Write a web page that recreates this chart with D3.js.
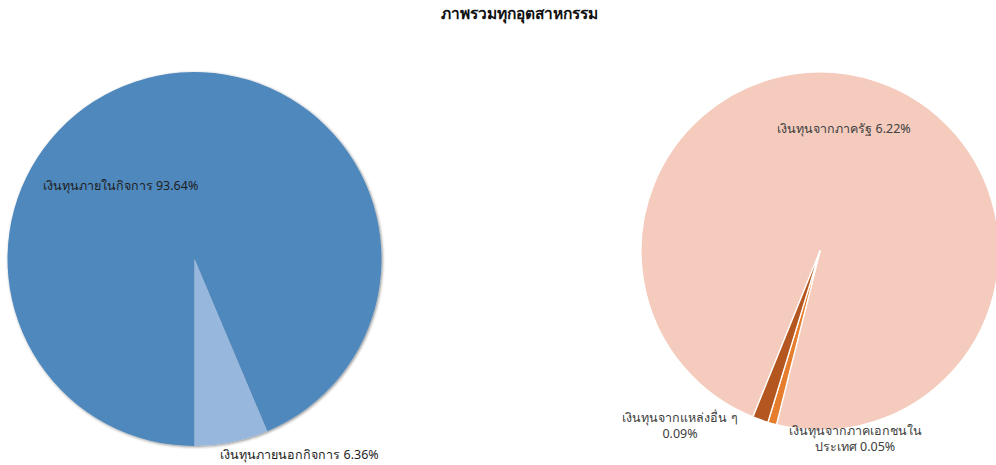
<!DOCTYPE html>
<html>
<head>
<meta charset="utf-8">
<script src="https://cdn.jsdelivr.net/npm/d3@7"></script>
<style>
  html, body { margin: 0; padding: 0; background: #fff; }
  svg { display: block; font-family: "Noto Sans", Tahoma, "Leelawadee UI", sans-serif; }
</style>
</head>
<body>
<svg id="chart" width="996" height="465"></svg>
<script>
// Funding sources, all industries combined (percent of total)
const mainLabels = ["เงินทุนภายในกิจการ", "เงินทุนภายนอกกิจการ"];
const mainValues = [93.64, 6.36];
const mainColors = ["#4f88bd", "#97b7dd"];

// Breakdown of external funding
const extLabels = ["เงินทุนจากภาครัฐ", "เงินทุนจากภาคเอกชนในประเทศ", "เงินทุนจากแหล่งอื่น ๆ"];
const extValues = [6.22, 0.05, 0.09];
const extColors = ["#f4cbbd", "#e57d2c", "#b4561f"];

const svg = d3.select("#chart");
const fmt = v => d3.format(".2f")(v) + "%";

// soft shadow under the main pie
const defs = svg.append("defs");
const f = defs.append("filter").attr("id", "shadow")
  .attr("x", "-10%").attr("y", "-10%").attr("width", "120%").attr("height", "120%");
f.append("feGaussianBlur").attr("in", "SourceAlpha").attr("stdDeviation", 1.6).attr("result", "b");
f.append("feOffset").attr("in", "b").attr("dx", 0.5).attr("dy", 0.8).attr("result", "o");
f.append("feComponentTransfer").attr("in", "o").attr("result", "s")
  .append("feFuncA").attr("type", "linear").attr("slope", 0.45);
const m = f.append("feMerge");
m.append("feMergeNode").attr("in", "s");
m.append("feMergeNode").attr("in", "SourceGraphic");

svg.append("text")
  .attr("x", 519).attr("y", 19)
  .attr("text-anchor", "middle")
  .attr("font-size", 15.5).attr("font-weight", "bold").attr("fill", "#111")
  .text("ภาพรวมทุกอุตสาหกรรม");

// ---- main pie ----
const leftC = [194.5, 259], leftR = 187;
const pieMain = d3.pie().sort(null).startAngle(Math.PI).endAngle(3 * Math.PI);
const arcMain = d3.arc().innerRadius(0).outerRadius(leftR);
const gL = svg.append("g").attr("transform", `translate(${leftC})`).attr("filter", "url(#shadow)");
gL.selectAll("path").data(pieMain(mainValues)).join("path")
  .attr("d", arcMain)
  .attr("fill", (d, i) => mainColors[i]);

const mainLabelPos = [[-74, -69], [105, 200]];
svg.append("g").attr("transform", `translate(${leftC})`)
  .selectAll("text").data(mainValues).join("text")
  .attr("x", (d, i) => mainLabelPos[i][0])
  .attr("y", (d, i) => mainLabelPos[i][1])
  .attr("text-anchor", "middle")
  .attr("font-size", 12.5).attr("fill", "#1e1e1e")
  .text((d, i) => mainLabels[i] + " " + fmt(d));

// ---- external breakdown pie ----
const rightC = [820, 251], rightR = 179;
const startExt = 202 * Math.PI / 180;
const pieExt = d3.pie().sort(null).startAngle(startExt).endAngle(startExt + 2 * Math.PI);
const arcExt = d3.arc().innerRadius(0).outerRadius(rightR);
const gR = svg.append("g").attr("transform", `translate(${rightC})`);
gR.selectAll("path").data(pieExt(extValues)).join("path")
  .attr("d", arcExt)
  .attr("fill", (d, i) => extColors[i])
  .attr("stroke", "#fff").attr("stroke-width", 1.3).attr("stroke-linejoin", "round");

const extLabelLines = [
  [extLabels[0] + " " + fmt(extValues[0])],
  ["เงินทุนจากภาคเอกชนใน", "ประเทศ " + fmt(extValues[1])],
  [extLabels[2], fmt(extValues[2])]
];
const extLabelPos = [[24, -118], [35, 184], [-140, 171]];
const gRL = svg.append("g").attr("transform", `translate(${rightC})`);
extLabelLines.forEach((lines, i) => {
  const t = gRL.append("text")
    .attr("x", extLabelPos[i][0]).attr("y", extLabelPos[i][1])
    .attr("text-anchor", "middle")
    .attr("font-size", 12.5).attr("fill", "#404040");
  lines.forEach((s, j) => {
    t.append("tspan").attr("x", extLabelPos[i][0]).attr("dy", j ? 16 : 0).text(s);
  });
});
</script>
</body>
</html>
